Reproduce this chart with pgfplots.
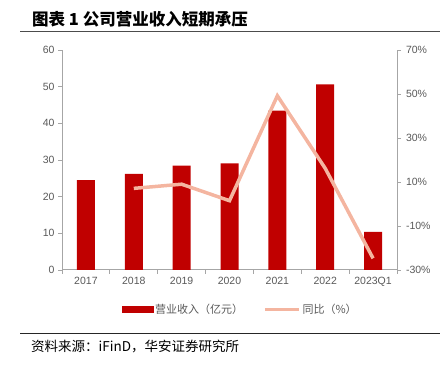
\documentclass[border=0pt]{standalone}
\usepackage{fontspec}
\setmainfont{Liberation Sans}
\newfontfamily\cjk{Noto Sans CJK SC}
\usepackage{pgfplots}
\pgfplotsset{compat=1.18}
\definecolor{barred}{HTML}{C00000}
\definecolor{linesal}{HTML}{F4B5A0}
\definecolor{axgray}{HTML}{A6A6A6}
\definecolor{txtgray}{HTML}{595959}
\begin{document}
\begin{tikzpicture}
\path[use as bounding box] (0bp,0bp) rectangle (440bp,365bp);
\node[anchor=base west, inner sep=0pt, font=\cjk\bfseries\fontsize{16.5bp}{19bp}\selectfont] at (32bp,339bp) {图表 1 公司营业收入短期承压};
\draw[line width=0.9bp, color=black!70] (20bp,334bp) -- (440bp,334bp);
\draw[line width=0.9bp, color=black!85] (20bp,32bp) -- (440bp,32bp);
\node[anchor=west, inner sep=0pt, font=\cjk\fontsize{13.5bp}{16bp}\selectfont] at (31bp,18.5bp) {资料来源：iFinD，华安证券研究所};
\pgfplotsset{
  every axis/.append style={
    at={(62bp,95bp)}, anchor=south west, scale only axis,
    width=335bp, height=220bp, xmin=-0.5, xmax=6.5,
    axis line style={draw=axgray, line width=1bp, -},
    tick align=outside, major tick length=4bp, minor tick length=4bp,
    tick style={draw=axgray, line width=0.8bp},
    ticklabel style={font=\fontsize{10.5bp}{12bp}\selectfont, color=txtgray},
    /pgf/number format/assume math mode=true,
  }
}
\begin{axis}[
  ymin=0, ymax=60, ytick={0,10,...,60},
  axis x line*=bottom, axis y line*=left,
  xtick={0,...,6}, xticklabels={2017,2018,2019,2020,2021,2022,2023Q1},
  major x tick style={draw=none},
  minor xtick={-0.5,0.5,...,6.5},
  ybar, bar width=18bp,
]
\addplot[fill=barred, draw=none] coordinates {(0,24.5) (1,26.2) (2,28.5) (3,29.1) (4,43.5) (5,50.6) (6,10.4)};
\end{axis}
\begin{axis}[
  ymin=-30, ymax=70, ytick={-30,-10,...,70},
  axis y line*=right, axis x line=none,
  yticklabel={\pgfmathprintnumber{\tick}\%},
  yticklabel style={xshift=1.5bp},
  legend columns=2,
  legend style={at={(0.532,-0.18)}, anchor=center, draw=none, fill=none,
    font=\cjk\fontsize{11bp}{13bp}\selectfont, text=txtgray,
    /tikz/every even column/.append style={column sep=18bp}},
]
\addlegendimage{legend image code/.code={\fill[barred] (0bp,-3bp) rectangle (31bp,3bp);}}
\addlegendimage{legend image code/.code={\draw[linesal, line width=3.5bp] (0bp,0bp) -- (34bp,0bp);}}
\addplot[forget plot, color=linesal, line width=3.5bp] coordinates {(1,7.1) (2,9.0) (3,1.5) (4,49.2) (5,16.2) (6,-24.7)};
\legend{营业收入（亿元）,同比（\%）}
\end{axis}
\end{tikzpicture}
\end{document}
